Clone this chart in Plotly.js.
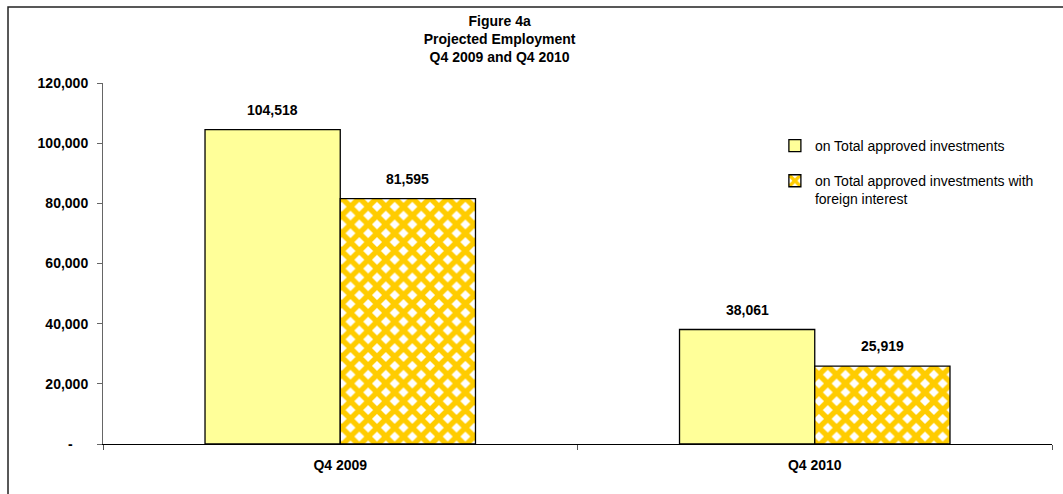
<!DOCTYPE html>
<html>
<head>
<meta charset="utf-8">
<script src="https://cdn.plot.ly/plotly-3.0.1.min.js"></script>
<style>
html,body{margin:0;padding:0;background:#fff;}
#chart{width:1063px;height:494px;}
</style>
</head>
<body>
<div id="chart"></div>
<script>
var categories = ["Q4 2009", "Q4 2010"];
var seriesNames = ["on Total approved investments", "on Total approved investments with<br>foreign interest"];
var totalApproved = [104518, 38061];
var withForeign = [81595, 25919];
var yTickVals = [0, 20000, 40000, 60000, 80000, 100000, 120000];
var yTickText = ["-\u00A0\u00A0\u00A0\u00A0", "20,000", "40,000", "60,000", "80,000", "100,000", "120,000"];

var FONT = "Liberation Sans, Arial, sans-serif";

function fmt(v){ return v.toLocaleString("en-US"); }

var trace1 = {
  type: "bar",
  name: seriesNames[0],
  x: categories,
  y: totalApproved,
  legendgroup: "a",
  marker: {color: "#FFFF99", line: {color: "#000", width: 1.3}},
  hoverinfo: "skip"
};
var trace2 = {
  type: "bar",
  name: seriesNames[1],
  x: categories,
  y: withForeign,
  legendgroup: "b",
  marker: {
    color: "#FFCC00",
    line: {color: "#000", width: 1.3},
    pattern: {shape: "x", fgcolor: "#FFCC00", bgcolor: "#FFFFFF", size: 12.5, solidity: 0.68, fillmode: "replace"}
  },
  hoverinfo: "skip"
};

// data labels, placed through the axes' own scales
var annotations = [];
var groupHalf = 67.5; // px offset of each bar centre from its category centre
categories.forEach(function(c, i){
  annotations.push({x: c, y: totalApproved[i], xref: "x", yref: "y", text: "<b>" + fmt(totalApproved[i]) + "</b>",
    showarrow: false, xshift: -groupHalf, yshift: 10, yanchor: "bottom",
    font: {family: FONT, size: 14, color: "#000"}});
  annotations.push({x: c, y: withForeign[i], xref: "x", yref: "y", text: "<b>" + fmt(withForeign[i]) + "</b>",
    showarrow: false, xshift: groupHalf, yshift: 10, yanchor: "bottom",
    font: {family: FONT, size: 14, color: "#000"}});
});

var layout = {
  width: 1063,
  height: 494,
  margin: {l: 103, r: 11, t: 83, b: 50},
  paper_bgcolor: "#fff",
  plot_bgcolor: "#fff",
  font: {family: FONT, size: 14, color: "#000"},
  title: {
    text: "<b>Figure 4a</b><br><b>Projected Employment</b><br><b>Q4 2009 and Q4 2010</b>",
    font: {family: FONT, size: 14, color: "#000"},
    x: 0.47, xanchor: "center", xref: "container",
    y: 0.948, yanchor: "top", yref: "container"
  },
  barmode: "group",
  bargap: 0.43,
  bargroupgap: 0,
  showlegend: true,
  legend: {
    x: 0.708, xanchor: "left", y: 0.87, yanchor: "top",
    font: {family: FONT, size: 14, color: "#000"},
    traceorder: "grouped",
    tracegroupgap: 14,
    valign: "top",
    bgcolor: "rgba(0,0,0,0)"
  },
  xaxis: {
    type: "category",
    showline: true, linecolor: "#000", linewidth: 1,
    ticks: "outside", tickson: "boundaries", ticklen: 5, tickcolor: "#555",
    tickfont: {family: FONT, size: 14, color: "#000", weight: "bold"},
    ticklabelstandoff: 8,
    showgrid: false, zeroline: false
  },
  yaxis: {
    range: [0, 120000],
    tickvals: yTickVals,
    ticktext: yTickText,
    showline: true, linecolor: "#666", linewidth: 1,
    ticks: "outside", ticklen: 5, tickcolor: "#666",
    tickfont: {family: FONT, size: 14, color: "#000", weight: "bold"},
    ticklabelstandoff: 6,
    showgrid: false, zeroline: false
  },
  annotations: annotations,
  shapes: [{
    type: "path",
    xref: "paper", yref: "paper",
    path: "M -0.1001,-0.3 L -0.1001,1.2105 L 1.05,1.2105",
    line: {color: "#222", width: 1.5}
  }]
};

Plotly.newPlot("chart", [trace1, trace2], layout, {displayModeBar: false, staticPlot: true});
</script>
</body>
</html>
